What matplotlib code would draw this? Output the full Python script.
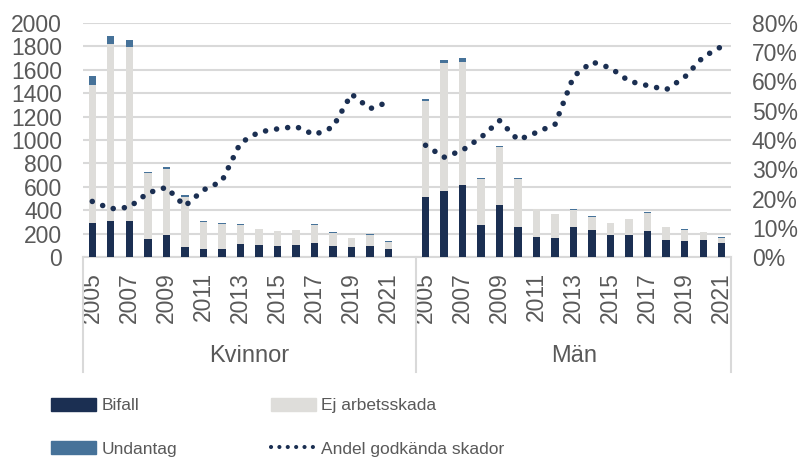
import numpy as np
import matplotlib
matplotlib.use('Agg')
import matplotlib.pyplot as plt
from matplotlib.patches import Patch
from matplotlib.lines import Line2D

# data
years = list(range(2005, 2022))
groups = ["Kvinnor", "Män"]

kv_bifall = [290, 305, 305, 157, 185, 85, 66, 68, 108, 100, 91, 103, 117, 91, 85, 94, 71]
kv_ej = [1177, 1518, 1493, 558, 570, 431, 233, 214, 163, 136, 128, 125, 154, 117, 75, 97, 57]
kv_undantag = [80, 69, 57, 14, 17, 17, 6, 9, 8, 6, 6, 6, 14, 8, 5, 8, 9]
kv_andel = [19.0, 16.5, 17.0, 21.9, 23.8, 17.4, 22.9, 25.9, 39.0, 42.7, 43.8, 44.6, 41.8, 44.4, 55.7, 50.7, 53.0]

m_bifall = [513, 561, 613, 271, 447, 259, 171, 160, 256, 228, 188, 188, 219, 145, 140, 148, 117]
m_ej = [817, 1100, 1057, 399, 493, 411, 236, 205, 149, 117, 103, 134, 154, 109, 91, 66, 48]
m_undantag = [23, 26, 28, 5, 9, 5, 6, 5, 8, 5, 2, 6, 9, 5, 5, 3, 3]
m_andel = [38.2, 34.1, 36.5, 40.9, 46.6, 40.0, 42.6, 45.4, 61.8, 66.7, 64.6, 60.1, 58.6, 57.2, 61.5, 68.4, 72.0]

c_bifall = "#1b2f52"
c_ej = "#deddda"
c_und = "#467299"
c_text = "#595959"
c_grid = "#d9d9d9"

plt.rcParams['font.family'] = ['Liberation Sans', 'DejaVu Sans']

n = len(years)
x_kv = np.arange(n)
x_m = np.arange(n) + n + 1
w = 0.4

fig = plt.figure(figsize=(7.99, 4.59), dpi=100)
ax = fig.add_axes([83 / 799, 1 - 257 / 459, 648 / 799, 234 / 459])
ax2 = ax.twinx()

for xs, b, e, u in [(x_kv, kv_bifall, kv_ej, kv_undantag), (x_m, m_bifall, m_ej, m_undantag)]:
    b = np.array(b)
    e = np.array(e)
    u = np.array(u)
    ax.bar(xs, b, w, color=c_bifall, zorder=3)
    ax.bar(xs, e, w, bottom=b, color=c_ej, zorder=3)
    ax.bar(xs, u, w, bottom=b + e, color=c_und, zorder=3)

# line with a gap between the groups
x_line = np.concatenate([x_kv, [n], x_m])
y_line = np.concatenate([kv_andel, [np.nan], m_andel]) / 100
ax2.plot(x_line, y_line, color=c_bifall, lw=4, linestyle=(0, (0.01, 2.0)),
         dash_capstyle='round', zorder=4)

ax.set_xlim(-0.5, 2 * n + 0.5)
ax.set_ylim(0, 2000)
ax.set_yticks(range(0, 2001, 200))
ax2.set_ylim(0, 0.8)
ax2.set_yticks(np.arange(0, 0.81, 0.1))
ax2.set_yticklabels([f"{int(round(v * 100))}%" for v in np.arange(0, 0.81, 0.1)])

ax.grid(axis='y', color=c_grid, lw=1.5, zorder=0)
ax.set_axisbelow(True)
for a in (ax, ax2):
    for s in a.spines.values():
        s.set_visible(False)
ax.spines['bottom'].set_visible(True)
ax.spines['bottom'].set_color(c_grid)
ax.spines['bottom'].set_linewidth(1.5)

tick_pos = [p for p, yr in zip(x_kv, years) if yr % 2 == 1] + [p for p, yr in zip(x_m, years) if yr % 2 == 1]
tick_lab = [str(yr) for yr in years if yr % 2 == 1] * 2
ax.set_xticks(tick_pos)
ax.set_xticklabels(tick_lab, rotation=90)
ax.tick_params(axis='x', length=0, pad=11, labelsize=16.5, labelcolor=c_text)
ax.tick_params(axis='y', length=0, pad=15, labelsize=16.5, labelcolor=c_text)
ax2.tick_params(axis='y', length=0, pad=15, labelsize=16.5, labelcolor=c_text)

# group separators and group labels
for xv in [-0.5, n + 0.5, 2 * n + 0.5]:
    ax.plot([xv, xv], [0, -115 / 234 * 2000], color=c_grid, lw=1.5, clip_on=False, zorder=1)
ax.text((-0.5 + n + 0.5) / 2, -99 / 234 * 2000, groups[0], ha='center', va='center',
        fontsize=17, color=c_text)
ax.text((n + 0.5 + 2 * n + 0.5) / 2, -99 / 234 * 2000, groups[1], ha='center', va='center',
        fontsize=17, color=c_text)

# legend, two columns placed separately
leg_font = {'family': ['Liberation Sans Narrow', 'Liberation Sans'], 'size': 12.5}
h1 = [Patch(color=c_bifall, label="Bifall"), Patch(color=c_und, label="Undantag")]
h2 = [Patch(color=c_ej, label="Ej arbetsskada"),
      Line2D([], [], color=c_bifall, lw=3, linestyle=(0, (0.01, 2.0)), dash_capstyle='round',
             label="Andel godkända skador")]
for hs, x0 in [(h1, 51), (h2, 271)]:
    leg = fig.legend(handles=hs, loc='upper left', bbox_to_anchor=(x0 / 799, 1 - 398 / 459),
                     frameon=False, prop=leg_font, borderpad=0, borderaxespad=0,
                     handlelength=2.6, handleheight=0.75, handletextpad=0.3, labelspacing=1.6)
    for t in leg.get_texts():
        t.set_color(c_text)

plt.savefig("out.png", dpi=100)
